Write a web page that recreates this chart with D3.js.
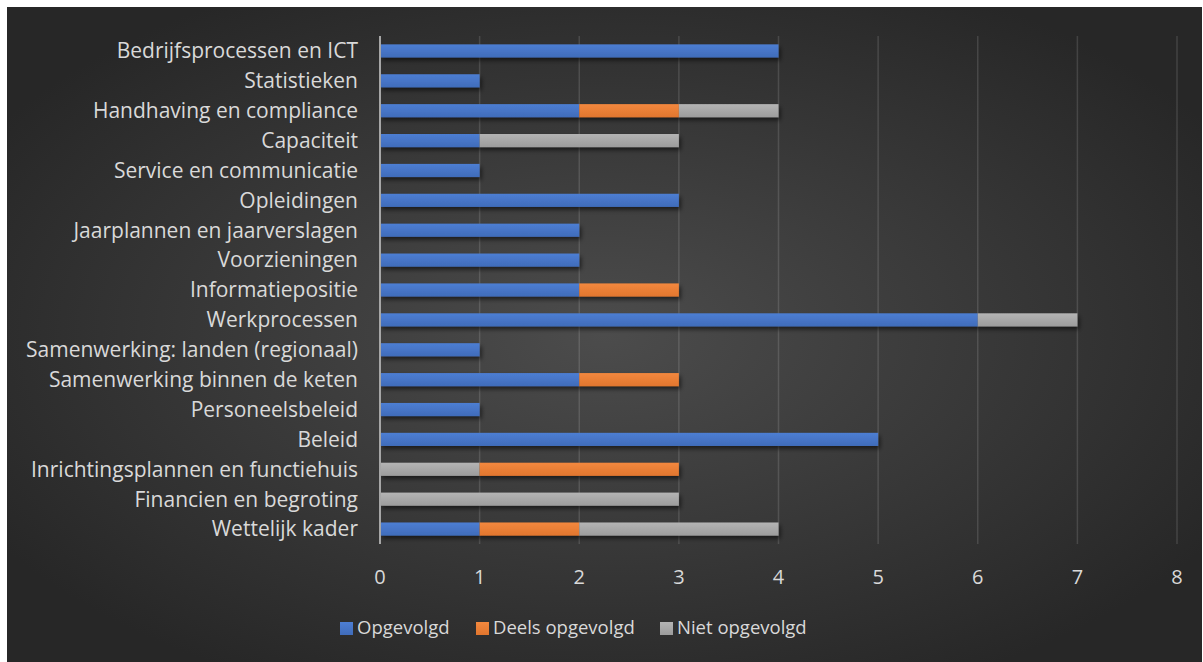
<!DOCTYPE html>
<html>
<head>
<meta charset="utf-8">
<style>
  body { margin: 0; background: #fff; }
  svg { display: block; }
  text { font-family: "Open Sans", Lato, sans-serif; }
</style>
</head>
<body>
<div id="chartId"></div>
<script src="https://cdn.jsdelivr.net/npm/d3@7"></script>
<script>

// data, top row first
const categories = [
  "Bedrijfsprocessen en ICT",
  "Statistieken",
  "Handhaving en compliance",
  "Capaciteit",
  "Service en communicatie",
  "Opleidingen",
  "Jaarplannen en jaarverslagen",
  "Voorzieningen",
  "Informatiepositie",
  "Werkprocessen",
  "Samenwerking: landen (regionaal)",
  "Samenwerking binnen de keten",
  "Personeelsbeleid",
  "Beleid",
  "Inrichtingsplannen en functiehuis",
  "Financien en begroting",
  "Wettelijk kader"
];
const opgevolgd      = [4, 1, 2, 1, 1, 3, 2, 2, 2, 6, 1, 2, 1, 5, 1, 0, 1];
const deelsOpgevolgd = [0, 0, 1, 0, 0, 0, 0, 0, 1, 0, 0, 1, 0, 0, 2, 0, 1];
const nietOpgevolgd  = [0, 0, 1, 2, 0, 0, 0, 0, 0, 1, 0, 0, 0, 0, 0, 3, 2];
const seriesNames = ["Opgevolgd", "Deels opgevolgd", "Niet opgevolgd"];
const xTicks = [0, 1, 2, 3, 4, 5, 6, 7, 8];
// in the original one point of Opgevolgd is coloured grey
const greyPoints = [{ category: "Inrichtingsplannen en functiehuis", series: 0 }];

const W = 1203, H = 662;
const colors = ["#4472c4", "#ed7d31", "#a5a5a5"];
const colorsTop = ["#4d7ed3", "#f3883e", "#b4b4b4"];

const svg = d3.select("#chartId").append("svg")
  .attr("width", W).attr("height", H);

const defs = svg.append("defs");
const bg = defs.append("radialGradient").attr("id", "bg")
  .attr("cx", "50%").attr("cy", "50%").attr("r", "60%");
bg.append("stop").attr("offset", "0%").attr("stop-color", "#4c4c4c");
bg.append("stop").attr("offset", "100%").attr("stop-color", "#272727");

colors.forEach((c, i) => {
  const g = defs.append("linearGradient").attr("id", "bar" + i)
    .attr("x1", 0).attr("x2", 0).attr("y1", 0).attr("y2", 1);
  g.append("stop").attr("offset", "0%").attr("stop-color", colorsTop[i]);
  g.append("stop").attr("offset", "100%").attr("stop-color", d3.color(c).darker(0.15));
});

const shadow = defs.append("filter").attr("id", "shadow")
  .attr("x", "-5%").attr("y", "-50%").attr("width", "115%").attr("height", "250%");
shadow.append("feDropShadow").attr("dx", 2).attr("dy", 3)
  .attr("stdDeviation", 2).attr("flood-color", "#000").attr("flood-opacity", 0.55);

svg.append("rect").attr("x", 7).attr("y", 7)
  .attr("width", W - 8).attr("height", H - 7).attr("fill", "url(#bg)");

const x = d3.scaleLinear().domain([0, 8]).range([380, 1177]);
const y = d3.scaleBand().domain(categories).range([36, 544]).paddingInner(0.56).paddingOuter(0.28);

// gridlines
svg.append("g")
  .selectAll("line").data(xTicks.slice(1)).join("line")
  .attr("x1", d => x(d)).attr("x2", d => x(d))
  .attr("y1", 36).attr("y2", 544)
  .attr("stroke", "rgba(255,255,255,0.13)").attr("stroke-width", 1.5);

// stacked bars
const rows = categories.map((c, i) => ({ category: c, values: [opgevolgd[i], deelsOpgevolgd[i], nietOpgevolgd[i]] }));
const segments = [];
rows.forEach(r => {
  let acc = 0;
  r.values.forEach((v, s) => {
    if (v > 0) {
      const grey = greyPoints.some(p => p.category === r.category && p.series === s);
      segments.push({ category: r.category, x0: acc, x1: acc + v, fill: grey ? 2 : s });
    }
    acc += v;
  });
});

const barsG = svg.append("g").attr("filter", "url(#shadow)");
barsG.selectAll("g").data(rows).join("g")
  .selectAll("rect").data(r => segments.filter(s => s.category === r.category)).join("rect")
  .attr("x", d => x(d.x0))
  .attr("width", d => x(d.x1) - x(d.x0))
  .attr("y", d => y(d.category))
  .attr("height", y.bandwidth())
  .attr("fill", d => "url(#bar" + d.fill + ")");

// vertical axis line
svg.append("line").attr("x1", x(0)).attr("x2", x(0)).attr("y1", 36).attr("y2", 544)
  .attr("stroke", "#a6a6a6").attr("stroke-width", 2);

// category labels
svg.append("g").selectAll("text").data(categories).join("text")
  .attr("x", 358)
  .attr("y", d => y(d) + y.bandwidth() / 2)
  .attr("dy", "0.35em")
  .attr("text-anchor", "end")
  .attr("fill", "#d9d9d9")
  .style("font-size", "21px")
  .text(d => d);

// x tick labels
svg.append("g").selectAll("text").data(xTicks).join("text")
  .attr("x", d => x(d))
  .attr("y", 577)
  .attr("dy", "0.35em")
  .attr("text-anchor", "middle")
  .attr("fill", "#d9d9d9")
  .style("font-size", "20px")
  .text(d => d);

// legend
const legendX = [340, 476, 660];
const legend = svg.append("g").selectAll("g").data(seriesNames).join("g")
  .attr("transform", (d, i) => "translate(" + legendX[i] + ",628)");
legend.append("rect").attr("x", 0).attr("y", -6).attr("width", 13).attr("height", 13)
  .attr("fill", (d, i) => "url(#bar" + i + ")");
legend.append("text").attr("x", 17).attr("dy", "0.35em")
  .attr("fill", "#d9d9d9").style("font-size", "18.5px")
  .text(d => d);

</script>
</body>
</html>
